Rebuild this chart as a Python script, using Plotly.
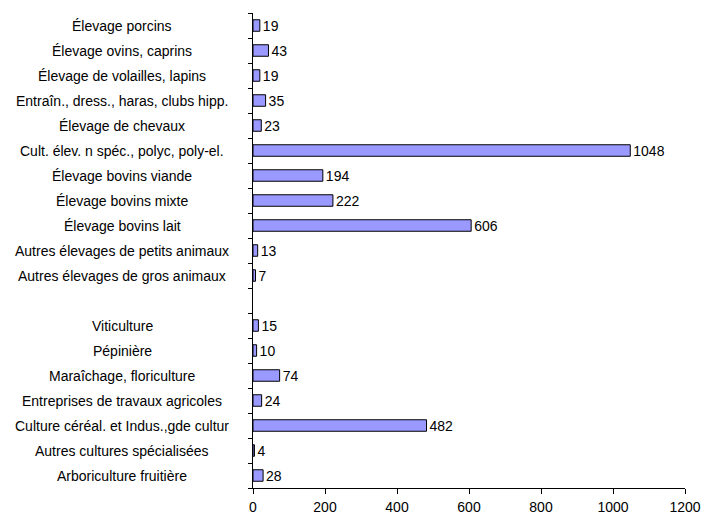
import plotly.graph_objects as go

categories = [
    "Élevage porcins",
    "Élevage ovins, caprins",
    "Élevage de volailles, lapins",
    "Entraîn., dress., haras, clubs hipp.",
    "Élevage de chevaux",
    "Cult. élev. n spéc., polyc, poly-el.",
    "Élevage bovins viande",
    "Élevage bovins mixte",
    "Élevage bovins lait",
    "Autres élevages de petits animaux",
    "Autres élevages de gros animaux",
    " ",
    "Viticulture",
    "Pépinière",
    "Maraîchage, floriculture",
    "Entreprises de travaux agricoles",
    "Culture céréal. et Indus.,gde cultur",
    "Autres cultures spécialisées",
    "Arboriculture fruitière",
]
values = [19, 43, 19, 35, 23, 1048, 194, 222, 606, 13, 7, None,
          15, 10, 74, 24, 482, 4, 28]
x_ticks = [0, 200, 400, 600, 800, 1000, 1200]

FONT = "Liberation Sans, Arial, sans-serif"

fig = go.Figure(go.Bar(
    y=categories,
    x=values,
    orientation="h",
    width=0.46,
    marker=dict(color="#9999FF", line=dict(color="#000000", width=1)),
    text=[("" if v is None else str(v)) for v in values],
    textposition="outside",
    constraintext="none",
    textfont=dict(family=FONT, size=14, color="#000000"),
    cliponaxis=False,
    hoverinfo="skip",
))

W_LEFT = 253
W_PLOT = 432
label_center_px = 122
for c in categories:
    if c.strip():
        fig.add_annotation(
            x=(label_center_px - W_LEFT) / W_PLOT, xref="paper",
            y=c, yref="y",
            text=c, showarrow=False, xanchor="center", yanchor="middle",
            font=dict(family=FONT, size=14, color="#000000"),
        )

fig.update_layout(
    width=702, height=518,
    margin=dict(l=W_LEFT, r=17, t=13, b=30),
    paper_bgcolor="white", plot_bgcolor="white",
    showlegend=False,
    font=dict(family=FONT, size=14, color="#000000"),
    xaxis=dict(
        range=[0, 1200], tickvals=x_ticks, ticktext=[str(t) for t in x_ticks],
        showgrid=False, zeroline=False, showline=True, linecolor="#000000",
        linewidth=1, ticks="outside", ticklen=5, tickcolor="#000000",
        ticklabelstandoff=1, automargin=False,
        tickfont=dict(family=FONT, size=14, color="#000000"),
    ),
    yaxis=dict(
        categoryorder="array", categoryarray=categories[::-1],
        showgrid=False, zeroline=False, showline=True, linecolor="#000000",
        linewidth=1, ticks="outside", ticklen=4, tickcolor="#000000",
        tickson="boundaries", showticklabels=False, automargin=False,
    ),
)

fig.write_html(
    "out.html",
    config={"displayModeBar": False},
    post_script="document.body.style.margin='0';document.body.style.overflow='hidden';",
)
